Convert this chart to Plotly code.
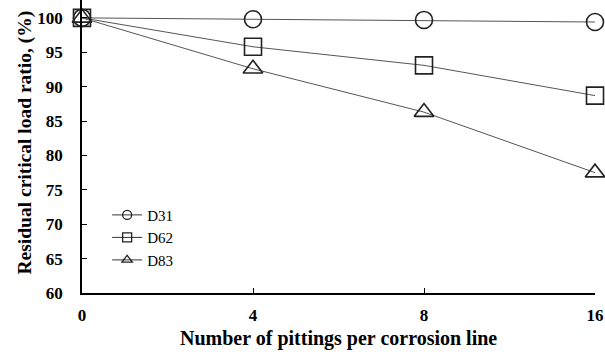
import plotly.graph_objects as go

x_labels = ["0", "4", "8", "16"]
d31 = [100, 99.8, 99.7, 99.4]
d62 = [100, 95.8, 93.1, 88.7]
d83 = [100, 92.6, 86.3, 77.5]
y_ticks = [60, 65, 70, 75, 80, 85, 90, 95, 100]
x_title = "Number of pittings per corrosion line"
y_title = "Residual critical load ratio, (%)"

series = [("D31", d31, "circle-open"), ("D62", d62, "square-open"), ("D83", d83, "triangle-up-open")]

fig = go.Figure()
for name, vals, sym in series:
    fig.add_trace(go.Scatter(
        x=x_labels, y=vals, name=name, mode="lines+markers", showlegend=False,
        line=dict(color="#555555", width=1),
        marker=dict(symbol=sym, size=17, color="#222222", line=dict(width=1.6, color="#222222")),
        cliponaxis=False,
    ))
# legend entries with small symbols
for name, vals, sym in series:
    fig.add_trace(go.Scatter(
        x=[None], y=[None], name=name, mode="lines+markers", showlegend=True,
        line=dict(color="#333333", width=1),
        marker=dict(symbol=sym, size=9, color="#222222", line=dict(width=1.3, color="#222222")),
    ))

font_family = "Liberation Serif, Times New Roman, serif"
fig.update_layout(
    width=605, height=355,
    margin=dict(l=82, r=10, t=0, b=62),
    paper_bgcolor="white", plot_bgcolor="white",
    font=dict(family=font_family, color="black"),
    showlegend=True,
    legend=dict(x=0.049, y=0.322, xanchor="left", yanchor="top",
                font=dict(family=font_family, size=15, color="black"),
                bgcolor="rgba(0,0,0,0)", tracegroupgap=0, itemwidth=30),
    annotations=[
        dict(text=x_title, x=0.5, y=0, xref="paper", yref="paper",
             xanchor="center", yanchor="middle", yshift=-45, showarrow=False,
             font=dict(family=font_family, size=20, color="black", weight="bold")),
        dict(text=y_title, x=0, y=0.5, xref="paper", yref="paper", textangle=-90,
             xanchor="center", yanchor="middle", xshift=-58, yshift=4, showarrow=False,
             font=dict(family=font_family, size=19.5, color="black", weight="bold")),
    ],
)
fig.update_xaxes(
    type="category", range=[0, 3],
    showline=True, linecolor="black", linewidth=1.5,
    ticks="inside", ticklen=5, tickcolor="black",
    showgrid=False, zeroline=False, ticklabelstandoff=6,
    tickfont=dict(family=font_family, size=17, color="black", weight="bold"),
)
fig.update_yaxes(
    range=[60, 102.6], tickvals=y_ticks,
    showline=True, linecolor="black", linewidth=1.5,
    ticks="inside", ticklen=5, tickcolor="black",
    showgrid=False, zeroline=False, ticklabelstandoff=14,
    tickfont=dict(family=font_family, size=17, color="black", weight="bold"),
)
fig.write_html("out.html")
